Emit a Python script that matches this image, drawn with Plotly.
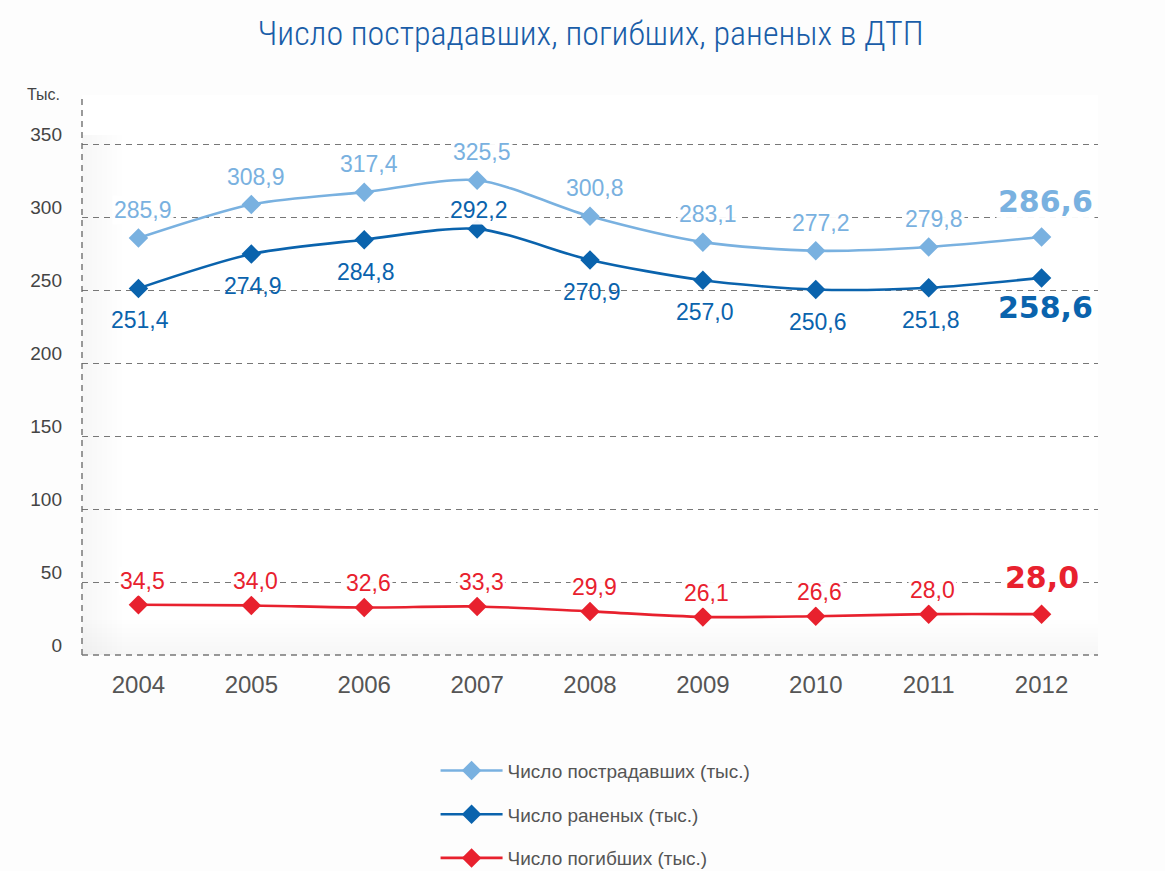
import plotly.graph_objects as go

years = ["2004", "2005", "2006", "2007", "2008", "2009", "2010", "2011", "2012"]
victims = [285.9, 308.9, 317.4, 325.5, 300.8, 283.1, 277.2, 279.8, 286.6]
injured = [251.4, 274.9, 284.8, 292.2, 270.9, 257.0, 250.6, 251.8, 258.6]
killed = [34.5, 34.0, 32.6, 33.3, 29.9, 26.1, 26.6, 28.0, 28.0]
y_ticks = [0, 50, 100, 150, 200, 250, 300, 350]

names = ["Число пострадавших (тыс.)", "Число раненых (тыс.)", "Число погибших (тыс.)"]
colors = ["#79b1e0", "#0a63ad", "#e8212e"]
series = [victims, injured, killed]

FONT = "Liberation Sans, Arial, Helvetica, sans-serif"
BOLD_FONT = "DejaVu Sans, Verdana, sans-serif"

fig = go.Figure()
for i, (nm, col, vals) in enumerate(zip(names, colors, series)):
    fig.add_trace(go.Scatter(
        x=years, y=vals, name=nm, mode="lines+markers",
        line=dict(color=col, width=2.6, shape="spline", smoothing=0.8),
        marker=dict(symbol="diamond", size=15, color=col),
        legendgroup=f"g{i}", hoverinfo="skip",
    ))

def fmt(v):
    return f"{v:.1f}".replace(".", ",")

annotations = []
last = len(years) - 1
for s, (col, vals) in enumerate(zip(colors, series)):
    for j, v in enumerate(vals):
        bold = j == last
        if s == 0:
            shift = 28 if not bold else 36
            xs = 5 if not bold else 4
        elif s == 1:
            shift = -32 if not bold else -30
            xs = 2 if not bold else 4
            if j == 3:
                shift = 19
        else:
            shift = 24 if not bold else 37
            xs = 4 if not bold else 0
        txt = f"<b>{fmt(v)}</b>" if bold else fmt(v)
        annotations.append(dict(
            x=j, y=v, xref="x", yref="y", text=txt, showarrow=False,
            yshift=shift, xshift=xs,
            font=dict(family=BOLD_FONT if bold else FONT, size=30 if bold else 23, color=col),
            bgcolor="rgba(255,255,255,0.95)" if (s != 1 or j == 3) else "rgba(0,0,0,0)",
            borderpad=1,
        ))

annotations.append(dict(
    x=-0.038, y=1.0, xref="paper", yref="paper", text="Тыс.", showarrow=False,
    xanchor="center", yanchor="bottom", yshift=-10,
    font=dict(family=FONT, size=16, color="#444"),
))

shapes = []
# soft shading at left and bottom of the plot area
for k in range(8):
    shapes.append(dict(type="rect", xref="paper", yref="paper",
                       x0=0, x1=0.005 * (8 - k), y0=0, y1=0.93,
                       fillcolor="rgba(0,0,0,0.005)", line=dict(width=0), layer="below"))
    shapes.append(dict(type="rect", xref="paper", yref="paper",
                       x0=0, x1=1, y0=0, y1=0.008 * (8 - k),
                       fillcolor="rgba(0,0,0,0.005)", line=dict(width=0), layer="below"))
# dashed y axis line and baseline
shapes.append(dict(type="line", xref="paper", yref="paper", x0=0, x1=0, y0=0, y1=1,
                   line=dict(color="#666", width=1.3, dash="6px,5px")))
shapes.append(dict(type="line", xref="paper", yref="paper", x0=0, x1=1, y0=0, y1=0,
                   line=dict(color="#777", width=1.3, dash="6px,5px")))

fig.update_layout(
    width=1165, height=871,
    margin=dict(l=82, r=67, t=95, b=216),
    paper_bgcolor="#fdfdfd", plot_bgcolor="#ffffff",
    title=dict(text="Число пострадавших, погибших, раненых в ДТП",
               x=0.507, xanchor="center", y=0.962, yanchor="middle",
               font=dict(family="Roboto Condensed, Liberation Sans Narrow, Arial Narrow, sans-serif",
                         size=34, color="#1a5da8", weight=300)),
    showlegend=True,
    legend=dict(x=0.348, y=0.137, xref="paper", yref="container",
                xanchor="left", yanchor="top",
                orientation="v", traceorder="grouped", tracegroupgap=16,
                itemwidth=62, font=dict(family=FONT, size=19, color="#555"),
                bgcolor="rgba(0,0,0,0)"),
    annotations=annotations,
    shapes=shapes,
    xaxis=dict(range=[-0.5, 8.5], showgrid=False, zeroline=False, showline=False,
               type="category",
               ticks="", tickfont=dict(family=FONT, size=24, color="#555"),
               ticklabelstandoff=13, fixedrange=True),
    yaxis=dict(range=[0, 384], tickvals=y_ticks, showgrid=True, gridcolor="#777",
               gridwidth=1.3, griddash="6px,5px", zeroline=False, showline=False,
               ticks="", tickfont=dict(family=FONT, size=19, color="#444"),
               ticklabelstandoff=19, ticklabelshift=-10, fixedrange=True),
)

fig.write_html("out.html", config={"displayModeBar": False},
               post_script="document.body.style.margin='0';")
